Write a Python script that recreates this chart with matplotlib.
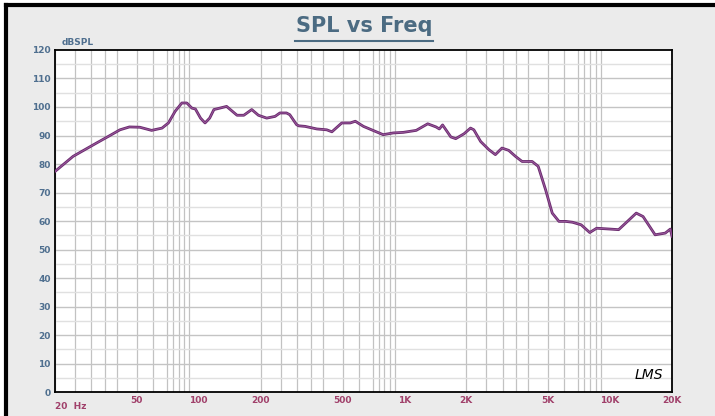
#SPL vs Freq plot
import numpy as np
from matplotlib import pyplot as plt

#frequency (Hz) and level (dBSPL)
freq = [20, 24.5, 31.9, 37, 41.4, 46, 51.7, 59, 66.3, 71.2, 76.8, 82.8, 87.5, 92.6, 96.3, 102, 107.3, 113, 118.5, 126.6,
        136.6, 153.5, 165.6, 181, 195, 214, 235, 248, 267, 277, 299, 306, 329, 375, 419, 444, 496, 545, 577, 632, 788,
        882, 987, 1141, 1298, 1425, 1478, 1533, 1681, 1776, 1948, 2096, 2175, 2347, 2578, 2768, 2980, 3213, 3465, 3733,
        4178, 4470, 4856, 5232, 5640, 6087, 6560, 7230, 7960, 8600, 10020, 11000, 11900, 13400, 14460, 16550, 18540,
        19620, 20000]
spl = [77.4, 82.7, 87.4, 90.0, 92.0, 93.0, 92.9, 91.8, 92.6, 94.4, 98.5, 101.4, 101.4, 99.6, 99.3, 96.1, 94.4, 96.1, 99.1, 99.6,
       100.2, 97.1, 97.1, 99.1, 97.1, 96.1, 96.7, 97.9, 97.9, 97.3, 93.8, 93.4, 93.2, 92.3, 92.0, 91.3, 94.4, 94.4, 95.0, 93.2, 90.3,
       90.9, 91.1, 91.8, 94.1, 93.0, 92.3, 93.7, 89.5, 88.9, 90.6, 92.6, 92.0, 87.9, 85.0, 83.3, 85.6, 84.8, 82.7, 80.9,
       80.9, 79.2, 71.0, 62.8, 59.9, 59.9, 59.6, 58.7, 56.0, 57.5, 57.2, 57.0, 59.3, 62.8, 61.6, 55.2, 55.8,
       57.2, 54.6]

#tick labels
yticks = list(range(0, 121, 10))
xticks = [20, 50, 100, 200, 500, 1000, 2000, 5000, 10000, 20000]
xlabels = ["", "50", "100", "200", "500", "1K", "2K", "5K", "10K", "20K"]

fig = plt.figure(figsize=(7.15, 4.16), dpi=100, facecolor="#ebebeb")
ax = fig.add_axes([0.0769, 0.057, 0.863, 0.823])#plot area
ax.set_xscale("log")
ax.set_xlim(20, 20000)
ax.set_ylim(0, 120)

#grid lines like LMS does it
grid_mult = [1, 1.25, 1.5, 1.75, 2, 2.5, 3, 3.5, 3.75, 4, 4.25, 4.5]
for dec in [20, 200, 2000]:
    for m in grid_mult:
        f = dec * m
        if f < 20000:
            ax.axvline(f, color="#c2c2c2", lw=0.9, zorder=1)
for y in range(5, 120, 5):
    if y % 10 == 0:
        ax.axhline(y, color="#c4c4c4", lw=1.0, zorder=1)
    else:
        ax.axhline(y, color="#e0e0e0", lw=1.0, zorder=1)

ax.plot(freq, spl, color="#6a2a6e", lw=2.0, zorder=3)#main curve
ax.plot(freq, spl, color="#9a5a9c", lw=0.7, zorder=4)

ax.set_yticks(yticks)
ax.set_yticklabels([str(t) for t in yticks], color="#4f6f8f", fontsize=6.5, fontweight="bold")
ax.set_xticks(xticks)
ax.set_xticklabels(xlabels, color="#a0406a", fontsize=6.5, fontweight="bold")
ax.minorticks_off()
ax.tick_params(length=0, pad=3)
for s in ax.spines.values():
    s.set_color("black")
    s.set_linewidth(1.3)

ax.text(20, -3.5, "20  Hz", color="#a0406a", fontsize=6.5, fontweight="bold", ha="left", va="top")
ax.text(21.5, 121, "dBSPL", color="#4f6f8f", fontsize=6.5, fontweight="bold", ha="left", va="bottom")
ax.text(15500, 3.5, "LMS", fontsize=10, style="italic", color="black", ha="center", va="bottom")

#title
fig.text(0.509, 0.938, "SPL vs Freq", color="#4b6b82", fontsize=15, fontweight="bold", ha="center", va="center")
fig.add_artist(plt.Line2D([0.413, 0.605], [0.901, 0.901], color="#4b6b82", lw=1.5))

#window frame
fig.add_artist(plt.Line2D([0.009, 0.009], [0, 0.988], color="black", lw=3))
fig.add_artist(plt.Line2D([0.009, 1], [0.988, 0.988], color="black", lw=3))
fig.add_artist(plt.Rectangle((0, 0), 0.007, 1, color="white"))
fig.add_artist(plt.Rectangle((0, 0.99), 1, 0.01, color="white"))

plt.savefig("out.png", dpi=100, facecolor=fig.get_facecolor())
